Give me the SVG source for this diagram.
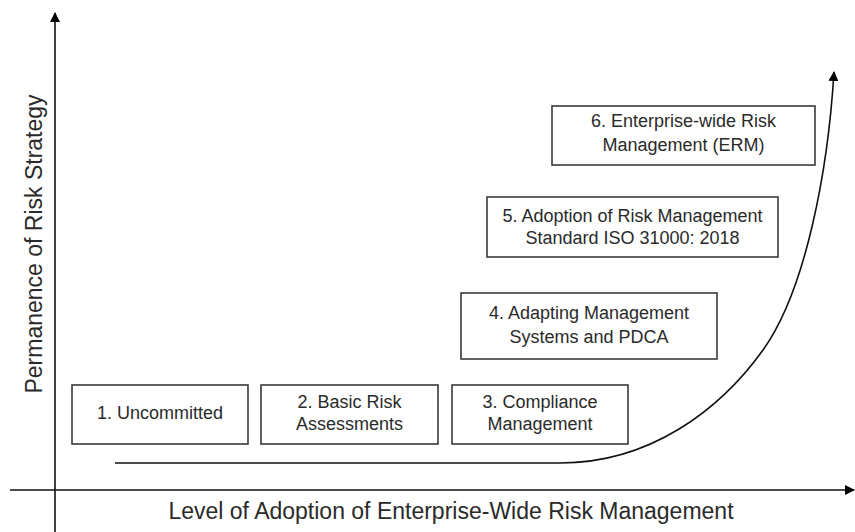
<svg xmlns="http://www.w3.org/2000/svg" width="855" height="532" viewBox="0 0 855 532">
<style>
.box{fill:#fff;stroke:#3a3a3a;stroke-width:1.6}
.t{font-family:"Liberation Sans",Arial,sans-serif;font-size:18px;fill:#2a2a2a;text-anchor:middle}
.ax{font-family:"Liberation Sans",Arial,sans-serif;font-size:23px;fill:#2a2a2a;text-anchor:middle}
.line{fill:none;stroke:#111;stroke-width:1.6}
</style>
<defs>
<marker id="ah" markerWidth="10" markerHeight="10" refX="9" refY="5" orient="auto" markerUnits="userSpaceOnUse" viewBox="0 0 10 10">
<path d="M0,0 L10,5 L0,10 z" fill="#000"/>
</marker>
</defs>
<rect width="855" height="532" fill="#fff"/>
<g id="connectors">
<line class="line" x1="55" y1="532" x2="55" y2="13" marker-end="url(#ah)" stroke-width="1.8"/>
<line class="line" x1="10" y1="490" x2="854" y2="490" marker-end="url(#ah)" stroke-width="1.8"/>
<path class="line" stroke="#333" d="M115,463 H560 C650,463 720,410 763,350 C806,290 828,170 834,72" marker-end="url(#ah)"/>
</g>
<g id="axis-y"><text class="ax" transform="translate(42,244) rotate(-90)">Permanence of Risk Strategy</text></g>
<g id="axis-x"><text class="ax" x="451" y="519">Level of Adoption of Enterprise-Wide Risk Management</text></g>
<g id="n1"><rect class="box" x="72" y="385" width="176" height="59"/><text class="t" x="160" y="419">1. Uncommitted</text></g>
<g id="n2"><rect class="box" x="261" y="385" width="177" height="59"/><text class="t" x="349.500" y="408">2. Basic Risk</text><text class="t" x="349.500" y="430">Assessments</text></g>
<g id="n3"><rect class="box" x="452" y="385" width="176" height="59"/><text class="t" x="540" y="408">3. Compliance</text><text class="t" x="540" y="430">Management</text></g>
<g id="n4"><rect class="box" x="461" y="293" width="256" height="66"/><text class="t" x="589" y="319">4. Adapting Management</text><text class="t" x="589" y="343">Systems and PDCA</text></g>
<g id="n5"><rect class="box" x="487" y="197" width="291" height="60"/><text class="t" x="632.500" y="222">5. Adoption of Risk Management</text><text class="t" x="632.500" y="244">Standard ISO 31000: 2018</text></g>
<g id="n6"><rect class="box" x="552" y="106" width="263" height="59"/><text class="t" x="683.500" y="127">6. Enterprise-wide Risk</text><text class="t" x="683.500" y="151">Management (ERM)</text></g>
</svg>
